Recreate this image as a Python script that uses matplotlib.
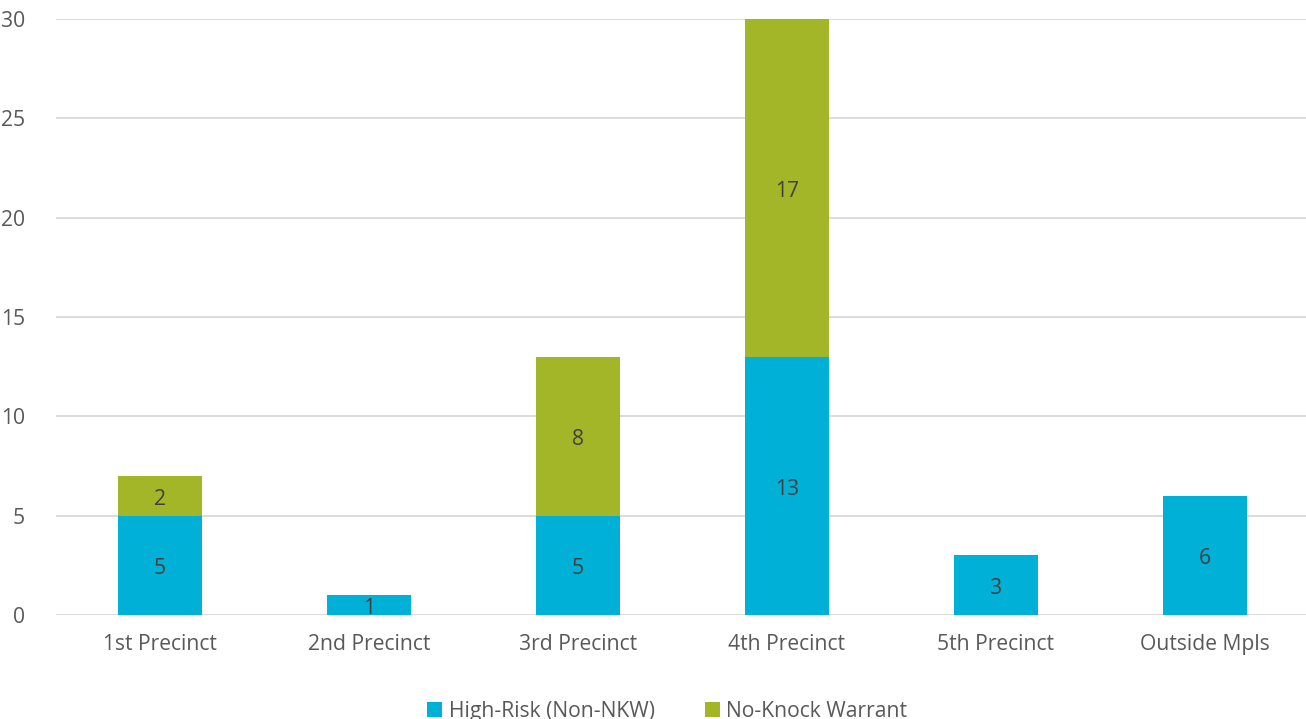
import numpy as np
import matplotlib
matplotlib.use("Agg")
import matplotlib.pyplot as plt

plt.rcParams['font.family'] = ['Open Sans', 'DejaVu Sans']

categories = ['1st Precinct', '2nd Precinct', '3rd Precinct', '4th Precinct', '5th Precinct', 'Outside Mpls']
high_risk = [5, 1, 5, 13, 3, 6]
no_knock = [2, 0, 8, 17, 0, 0]

blue = '#00B0D6'
green = '#A2B628'
fs = 15.2

fig = plt.figure(figsize=(13.06, 7.19), dpi=100)
ax = fig.add_axes([0.0425, 0.1446, 0.960, 0.829])

x = np.arange(len(categories))
b1 = ax.bar(x, high_risk, width=0.4, color=blue, label='High-Risk (Non-NKW)', zorder=3)
b2 = ax.bar(x, no_knock, width=0.4, bottom=high_risk, color=green, label='No-Knock Warrant', zorder=3)

# value labels, centred in each segment
for i in range(len(categories)):
    if high_risk[i] > 0:
        ax.annotate(str(high_risk[i]), (x[i], high_risk[i] / 2), xytext=(0, -2.5),
                    textcoords='offset points', ha='center', va='center',
                    fontsize=fs, color='#404040', zorder=4)
    if no_knock[i] > 0:
        ax.annotate(str(no_knock[i]), (x[i], high_risk[i] + no_knock[i] / 2), xytext=(0, -2.5),
                    textcoords='offset points', ha='center', va='center',
                    fontsize=fs, color='#404040', zorder=4)

ax.set_xlim(-0.5, len(categories) - 0.5)
ax.set_ylim(0, 30)
ax.set_yticks(range(0, 31, 5))
ax.set_xticks(x)
ax.set_xticklabels(categories)
ax.yaxis.grid(True, color='#D9D9D9', linewidth=1.3, zorder=0)
ax.tick_params(axis='both', length=0, labelsize=fs, labelcolor='#595959')
ax.tick_params(axis='y', pad=22)
ax.tick_params(axis='x', pad=14)
for s in ax.spines.values():
    s.set_visible(False)

fig.legend(handles=[b1, b2], loc='lower center', bbox_to_anchor=(0.511, -0.03), ncol=2,
           frameon=False, fontsize=fs, labelcolor='#595959', handlelength=0.7,
           handleheight=0.7, handletextpad=0.3, columnspacing=2.4)

fig.savefig('out.png', dpi=100)
